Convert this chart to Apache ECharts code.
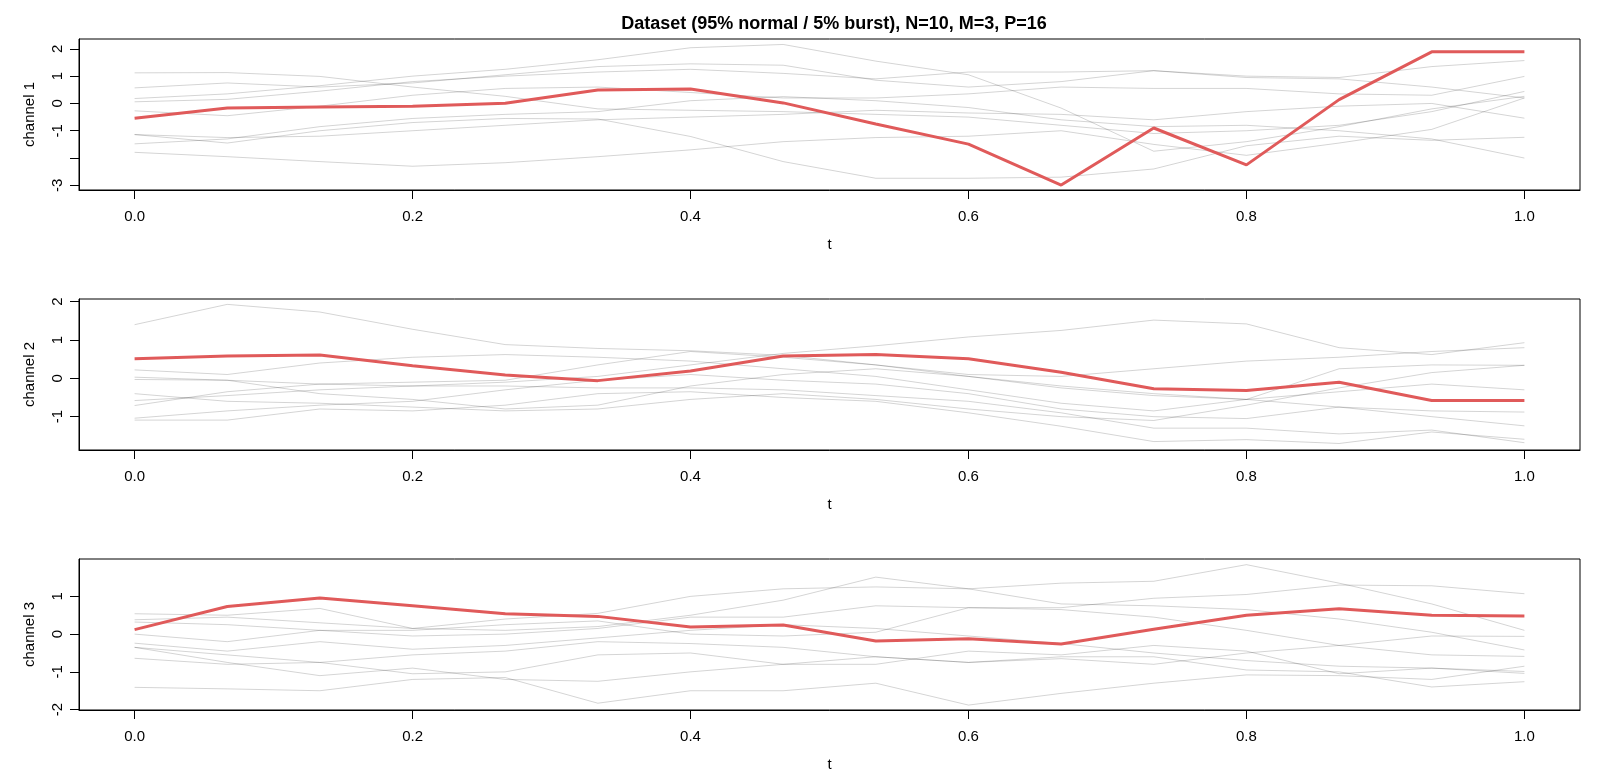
<!DOCTYPE html>
<html>
<head>
<meta charset="utf-8">
<title>Dataset (95% normal / 5% burst)</title>
<script src="https://cdn.jsdelivr.net/npm/echarts@6/dist/echarts.min.js"></script>
<style>
  html, body { margin: 0; padding: 0; background: #fff; }
  #chart { width: 1600px; height: 780px; }
</style>
</head>
<body>
<div id="chart"></div>
<script>
// time grid (P = 16 points)
const tValues = [0, 0.0667, 0.1333, 0.2, 0.2667, 0.3333, 0.4, 0.4667, 0.5333, 0.6, 0.6667, 0.7333, 0.8, 0.8667, 0.9333, 1.0]

// channel 1: normal curves (gray) and the burst curve (red)
const ch1Normal = [
  [1.12, 1.13, 0.99, 0.60, 0.26, -0.20, -0.25, -0.30, -0.40, -0.50, -0.80, -1.10, -1.00, -0.80, -0.30, 0.44],
  [0.57, 0.75, 0.60, 0.75, 1.05, 1.35, 1.45, 1.40, 0.85, 0.60, 0.80, 1.20, 1.00, 0.95, 1.35, 1.57],
  [0.18, 0.35, 0.65, 1.00, 1.25, 1.60, 2.04, 2.16, 1.55, 1.05, -0.17, -1.75, -1.40, -0.85, -0.20, 0.26],
  [0.06, 0.15, 0.45, 0.80, 1.00, 1.15, 1.25, 1.10, 0.90, 1.15, 1.15, 1.20, 0.95, 0.90, 0.60, 0.20],
  [-0.27, -0.45, -0.10, 0.30, 0.55, 0.60, 0.40, 0.20, 0.20, 0.35, 0.60, 0.55, 0.55, 0.35, 0.30, 0.99],
  [-1.14, -1.25, -1.20, -1.00, -0.80, -0.60, -0.50, -0.40, -0.25, -0.35, -0.40, -0.60, -0.30, -0.10, 0.00, -0.54],
  [-1.14, -1.45, -1.00, -0.70, -0.55, -0.57, -1.21, -2.13, -2.74, -2.74, -2.70, -2.40, -1.55, -1.20, -1.35, -1.24],
  [-1.48, -1.30, -0.85, -0.55, -0.40, -0.30, 0.10, 0.25, 0.10, -0.15, -0.60, -0.85, -0.80, -1.00, -1.30, -2.00],
  [-1.79, -1.95, -2.13, -2.30, -2.17, -1.95, -1.70, -1.40, -1.25, -1.20, -1.00, -1.50, -1.90, -1.45, -0.95, 0.20]
]
const ch1Burst = [-0.54, -0.17, -0.13, -0.10, 0.01, 0.49, 0.53, 0.02, -0.75, -1.49, -2.99, -0.90, -2.25, 0.14, 1.89, 1.89]

// channel 2
const ch2Normal = [
  [1.40, 1.93, 1.73, 1.28, 0.88, 0.78, 0.72, 0.60, 0.35, 0.05, -0.25, -0.45, -0.55, -0.75, -0.85, -0.88],
  [-0.58, -0.45, -0.30, -0.20, -0.10, 0.05, 0.35, 0.65, 0.85, 1.08, 1.25, 1.52, 1.42, 0.80, 0.62, 0.93],
  [0.22, 0.10, 0.40, 0.55, 0.62, 0.55, 0.45, 0.25, 0.05, -0.30, -0.65, -0.85, -0.55, 0.25, 0.35, 0.34],
  [0.03, -0.05, -0.15, -0.10, -0.05, 0.35, 0.70, 0.55, 0.35, 0.10, 0.05, 0.25, 0.45, 0.55, 0.70, 0.80],
  [-0.03, -0.05, -0.40, -0.55, -0.80, -0.70, -0.20, 0.10, 0.25, 0.05, -0.20, -0.40, -0.55, -0.35, -0.15, -0.30],
  [-0.40, -0.60, -0.65, -0.75, -0.85, -0.80, -0.55, -0.40, -0.55, -0.80, -1.00, -1.10, -0.70, -0.25, 0.15, 0.34],
  [-0.71, -0.35, -0.15, -0.20, -0.20, -0.25, -0.25, -0.30, -0.45, -0.60, -0.90, -1.30, -1.30, -1.45, -1.35, -1.68],
  [-1.04, -0.85, -0.70, -0.60, -0.30, -0.05, 0.10, -0.05, -0.15, -0.40, -0.80, -1.00, -1.05, -0.75, -1.00, -1.24],
  [-1.09, -1.09, -0.80, -0.85, -0.70, -0.40, -0.35, -0.50, -0.60, -0.90, -1.25, -1.65, -1.60, -1.70, -1.40, -1.59]
]
const ch2Burst = [0.51, 0.58, 0.61, 0.33, 0.09, -0.06, 0.19, 0.58, 0.62, 0.51, 0.16, -0.27, -0.32, -0.10, -0.58, -0.58]

// channel 3
const ch3Normal = [
  [0.38, 0.45, 0.30, 0.15, 0.40, 0.55, 1.00, 1.20, 1.25, 1.20, 1.35, 1.40, 1.84, 1.35, 0.80, 0.10],
  [0.54, 0.50, 0.68, 0.15, 0.10, 0.20, 0.50, 0.90, 1.51, 1.20, 0.80, 0.75, 0.65, 0.40, 0.05, -0.42],
  [0.32, 0.25, 0.10, -0.05, 0.00, 0.15, 0.45, 0.45, 0.75, 0.70, 0.70, 0.95, 1.05, 1.30, 1.28, 1.07],
  [0.00, -0.20, 0.10, 0.10, 0.25, 0.35, 0.00, -0.05, 0.05, 0.70, 0.65, 0.45, 0.10, -0.30, -0.55, -0.59],
  [-0.24, -0.45, -0.20, -0.40, -0.30, -0.10, 0.10, 0.25, 0.15, -0.05, -0.25, -0.50, -0.70, -0.85, -0.90, -0.99],
  [-0.35, -0.55, -0.75, -0.55, -0.45, -0.20, -0.25, -0.35, -0.60, -0.75, -0.65, -0.80, -0.50, -0.30, -0.05, -0.06],
  [-0.64, -0.80, -0.75, -1.05, -1.00, -0.55, -0.50, -0.80, -0.80, -0.45, -0.55, -0.30, -0.45, -1.05, -0.90, -1.04],
  [-0.35, -0.75, -1.10, -0.90, -1.20, -1.25, -1.00, -0.80, -0.60, -0.75, -0.60, -0.60, -0.95, -1.00, -1.40, -1.26],
  [-1.41, -1.45, -1.50, -1.20, -1.15, -1.83, -1.50, -1.50, -1.30, -1.88, -1.57, -1.30, -1.08, -1.10, -1.20, -0.85]
]
const ch3Burst = [0.12, 0.73, 0.96, 0.75, 0.54, 0.47, 0.19, 0.24, -0.18, -0.12, -0.26, 0.13, 0.50, 0.67, 0.50, 0.48]

const channelNames = ['channel 1', 'channel 2', 'channel 3']
const xTickValues = [0, 0.2, 0.4, 0.6, 0.8, 1.0]
const yTickValues = [[-3, -2, -1, 0, 1, 2], [-1, 0, 1, 2], [-2, -1, 0, 1]]
const yLabelValues = [[-3, -1, 0, 1, 2], [-1, 0, 1, 2], [-2, -1, 0, 1]]
const yLimits = [[-3.17, 2.36], [-1.87, 2.07], [-2.01, 1.99]]

const normalSets = [ch1Normal, ch2Normal, ch3Normal]
const burstSets = [ch1Burst, ch2Burst, ch3Burst]

const font = 'Liberation Sans, Arial, sans-serif'
const gridTops = [39, 299, 559]

function pairs(values) {
  return values.map((v, i) => [tValues[i], v])
}

const grids = []
const xAxes = []
const yAxes = []
const series = []

for (let p = 0; p < 3; p++) {
  grids.push({
    left: 79, right: 20, top: gridTops[p], height: 151,
    show: true, borderColor: '#000', borderWidth: 1, backgroundColor: 'transparent'
  })
  xAxes.push({
    type: 'value', gridIndex: p, min: -0.04, max: 1.04,
    name: 't', nameLocation: 'middle', nameGap: 47,
    nameTextStyle: { color: '#000', fontSize: 15, fontFamily: font },
    axisLine: { show: true, onZero: false, lineStyle: { color: '#000', width: 1 } },
    axisTick: { show: true, inside: false, length: 9, customValues: xTickValues, lineStyle: { color: '#000' } },
    axisLabel: {
      color: '#000', fontSize: 15, fontFamily: font, margin: 19,
      customValues: xTickValues,
      formatter: v => v.toFixed(1)
    },
    splitLine: { show: false }
  })
  yAxes.push({
    type: 'value', gridIndex: p, min: yLimits[p][0], max: yLimits[p][1],
    name: channelNames[p], nameLocation: 'middle', nameGap: 42,
    nameTextStyle: { color: '#000', fontSize: 15, fontFamily: font },
    axisLine: { show: true, onZero: false, lineStyle: { color: '#000', width: 1 } },
    axisTick: { show: true, inside: false, length: 9, customValues: yTickValues[p], lineStyle: { color: '#000' } },
    axisLabel: {
      color: '#000', fontSize: 15, fontFamily: font, margin: 14, rotate: 90,
      customValues: yLabelValues[p]
    },
    splitLine: { show: false }
  })

  normalSets[p].forEach((curve, i) => {
    series.push({
      name: channelNames[p] + ' normal ' + (i + 1),
      type: 'line', xAxisIndex: p, yAxisIndex: p,
      data: pairs(curve),
      symbol: 'none', silent: true,
      lineStyle: { color: 'rgba(0,0,0,0.17)', width: 1 },
      z: 2
    })
  })
  series.push({
    name: channelNames[p] + ' burst',
    type: 'line', xAxisIndex: p, yAxisIndex: p,
    data: pairs(burstSets[p]),
    symbol: 'none', silent: true,
    lineStyle: { color: '#E05A5A', width: 3 },
    z: 5
  })
}

let myChart = echarts.init(document.getElementById('chart'), null, { renderer: 'canvas' })
let option = {
  animation: false,
  backgroundColor: '#fff',
  title: {
    text: 'Dataset (95% normal / 5% burst), N=10, M=3, P=16',
    left: 829, top: 10, textAlign: 'center',
    textStyle: { color: '#000', fontSize: 18, fontWeight: 'bold', fontFamily: font }
  },
  grid: grids,
  xAxis: xAxes,
  yAxis: yAxes,
  series: series
}
myChart.setOption(option)
</script>
</body>
</html>
